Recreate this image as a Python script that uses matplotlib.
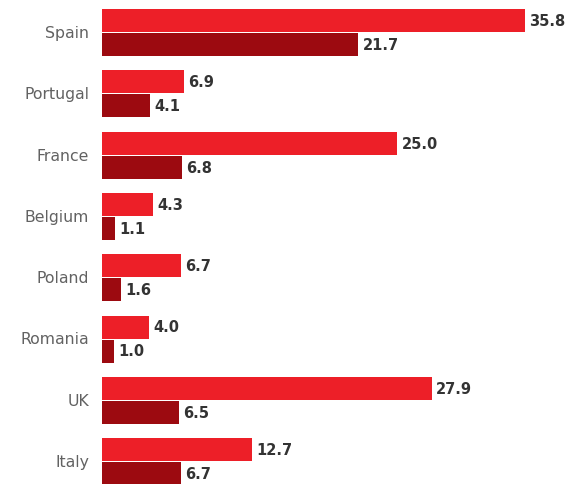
import matplotlib
matplotlib.use("Agg")
import matplotlib.pyplot as plt
import numpy as np

countries = ["Spain", "Portugal", "France", "Belgium", "Poland", "Romania", "UK", "Italy"]
series_a = [35.8, 6.9, 25.0, 4.3, 6.7, 4.0, 27.9, 12.7]
series_b = [21.7, 4.1, 6.8, 1.1, 1.6, 1.0, 6.5, 6.7]

RED = "#ED1F28"
DARK_RED = "#9C0A10"

plt.rcParams["font.family"] = ["DejaVu Sans"]

fig = plt.figure(figsize=(5.71, 4.85), dpi=100)
ax = fig.add_axes([102 / 571, 0, 449 / 571, 1])

step = 61.3  # px between groups
y = np.arange(len(countries))
h = 23 / step
off = 12 / step

bars_a = ax.barh(y - off, series_a, height=h, color=RED)
bars_b = ax.barh(y + off, series_b, height=h, color=DARK_RED)

for bars, vals in ((bars_a, series_a), (bars_b, series_b)):
    for bar, val in zip(bars, vals):
        ax.text(bar.get_width() + 0.36, bar.get_y() + bar.get_height() / 2, f"{val:.1f}",
                va="center", ha="left", fontsize=10.5, fontweight="bold", color="#333333")

for yi, name in zip(y, countries):
    ax.text(-1.07, yi, name, va="center", ha="right", fontsize=11.3, color="#626262")

ax.set_xlim(0, 38)
ax.set_ylim((485 - 33.5) / step, -33.5 / step)
ax.axis("off")

fig.savefig("out.png", dpi=100)
